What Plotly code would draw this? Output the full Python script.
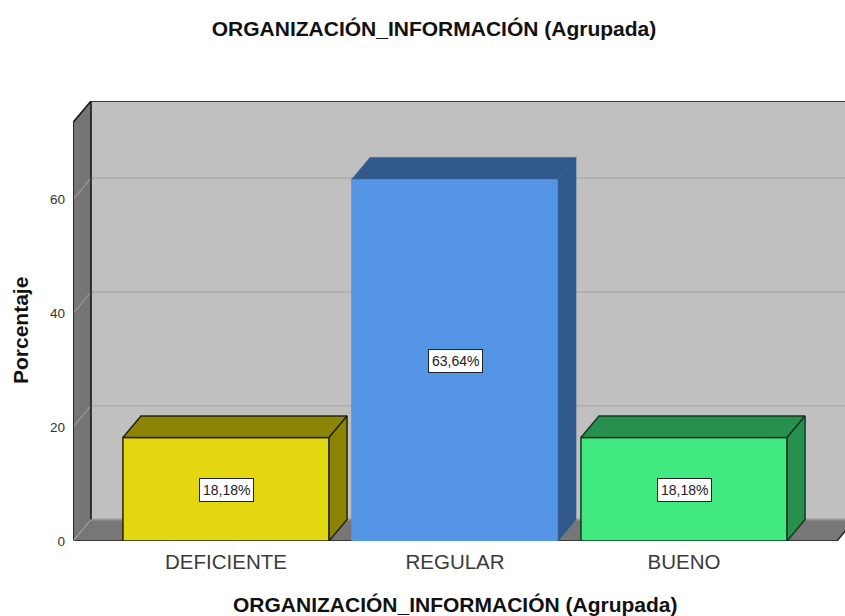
import plotly.graph_objects as go

categories = ["DEFICIENTE", "REGULAR", "BUENO"]
percentages = [18.18, 63.64, 18.18]
value_labels = ["18,18%", "63,64%", "18,18%"]
y_ticks = [0, 20, 40, 60]
title_text = "ORGANIZACIÓN_INFORMACIÓN (Agrupada)"
y_title = "Porcentaje"

front_colors = ["#e3d80f", "#5595e6", "#41ea80"]
dark_colors = ["#8c8405", "#32598c", "#27904f"]
edge_colors = ["#26240a", "#5595e6", "#123a22"]
dark_edges = ["#26240a", "#32598c", "#123a22"]

W, H = 845, 616
ML, MB, MT = 73, 75, 101
PX_PER_CAT = 229.0
PX_PER_VAL = 5.69
x0 = (ML - 226) / PX_PER_CAT
x1 = (W - 226) / PX_PER_CAT
ytop = (H - MB - MT) / PX_PER_VAL
DX = 18 / PX_PER_CAT
DY = 21.5 / PX_PER_VAL
BW = 0.9
x_front_end = 2 - x0


def poly(xs, ys, fill):
    path = "M " + " L ".join(f"{a},{b}" for a, b in zip(xs, ys)) + " Z"
    return dict(type="path", path=path, xref="x", yref="y", fillcolor=fill,
                line=dict(width=0), layer="below")


def seg(xa, ya, xb, yb, color, width):
    return dict(type="line", xref="x", yref="y", x0=xa, y0=ya, x1=xb, y1=yb,
                line=dict(color=color, width=width), layer="below")


shapes = [
    poly([x0 + DX, x1 + 1, x1 + 1, x0 + DX], [DY, DY, ytop, ytop], "#c0c0c0"),
    poly([x0, x_front_end, x_front_end + DX, x0 + DX], [0, 0, DY, DY], "#777777"),
    poly([x0, x0 + DX, x0 + DX, x0], [0, DY, ytop, ytop - DY], "#757575"),
    seg(x0 + DX, DY, x1 + 1, DY, "#9a9a9a", 2),
]
for t in y_ticks[1:]:
    shapes.append(seg(x0 + DX, t + DY, x1 + 1, t + DY, "#adadad", 1.5))
    shapes.append(seg(x0, t, x0 + DX, t + DY, "#a9a9a9", 1))
shapes += [
    seg(x0 + DX, ytop, x1 + 1, ytop, "#111111", 1.5),
    seg(x0 + DX, DY, x0 + DX, ytop, "#111111", 1.5),
    seg(x0, 0, x0, ytop - DY, "#111111", 1.5),
    seg(x0, ytop - DY, x0 + DX, ytop, "#111111", 1.5),
    seg(x0, 0, x_front_end, 0, "#222222", 1.5),
    seg(x_front_end, 0, x_front_end + DX, DY, "#222222", 1.5),
    seg(x0, 0, x0 + DX, DY, "#a9a9a9", 1),
]

fig = go.Figure()
xs = list(range(len(categories)))
fig.add_trace(go.Bar(x=xs, y=percentages, width=BW,
                     marker=dict(color=front_colors, line=dict(color=edge_colors, width=1.5)),
                     hoverinfo="skip", showlegend=False))

for i, v in enumerate(percentages):
    l, r = i - BW / 2, i + BW / 2
    line = dict(color=dark_edges[i], width=1.5 if i != 1 else 0.5)
    fig.add_trace(go.Scatter(x=[l, r, r + DX, l + DX, l], y=[v, v, v + DY, v + DY, v], mode="lines",
                             fill="toself", fillcolor=dark_colors[i], line=line,
                             hoverinfo="skip", showlegend=False))
    fig.add_trace(go.Scatter(x=[r, r + DX, r + DX, r, r], y=[0, DY, v + DY, v, 0], mode="lines",
                             fill="toself", fillcolor=dark_colors[i], line=line,
                             hoverinfo="skip", showlegend=False))

annotations = [dict(x=i, y=v / 2, xref="x", yref="y", yshift=-1, text=value_labels[i], showarrow=False,
                    font=dict(family="Liberation Sans", size=14, color="#222222"),
                    bgcolor="#ffffff", bordercolor="#222222", borderwidth=1, borderpad=3)
               for i, v in enumerate(percentages)]
bold = dict(family="Liberation Sans", size=21, color="#111111", weight="bold")
plot_w, plot_h = W - ML, H - MB - MT
annotations += [
    dict(x=(455 - ML) / plot_w, y=(H - MB - 604) / plot_h, xref="paper", yref="paper", text=title_text,
         showarrow=False, font=bold, xanchor="center", yanchor="middle"),
    dict(x=(20 - ML) / plot_w, y=(H - MB - 331) / plot_h, xref="paper", yref="paper", text=y_title,
         showarrow=False, font=bold, textangle=-90, xanchor="center", yanchor="middle"),
]

fig.update_layout(
    width=W, height=H, paper_bgcolor="#ffffff", plot_bgcolor="#ffffff",
    margin=dict(l=ML, r=0, t=MT, b=MB, autoexpand=False),
    showlegend=False, shapes=shapes, annotations=annotations,
    font=dict(family="Liberation Sans", color="#222222"),
    title=dict(text=title_text, x=434 / W, xanchor="center", y=1 - 29 / H, yanchor="middle", font=bold),
    xaxis=dict(range=[x0, x1], tickmode="array", tickvals=xs, ticktext=categories, showgrid=False,
               zeroline=False, showline=False, ticks="", tickfont=dict(size=20.5, color="#3a3a3a"),
               ticklabelstandoff=6),
    yaxis=dict(range=[0, ytop], tickmode="array", tickvals=y_ticks, showgrid=False, zeroline=False,
               showline=False, ticks="", tickfont=dict(size=13.5, color="#333333"), ticklabelstandoff=7),
)
fig.write_html("out.html", config=dict(displayModeBar=False),
               post_script="document.body.style.margin='0';document.body.style.overflow='hidden';")
